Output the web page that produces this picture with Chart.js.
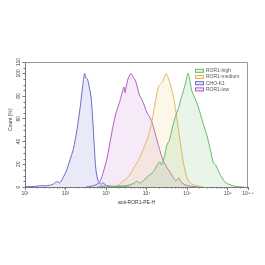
<!DOCTYPE html>
<html>
<head>
<meta charset="utf-8">
<script src="https://cdn.jsdelivr.net/npm/chart.js@4.4.1/dist/chart.umd.min.js"></script>
<style>
  html, body { margin: 0; padding: 0; background: #fff; }
  #wrap { width: 265px; height: 265px; }
</style>
</head>
<body>
<div id="wrap"><canvas id="chart" width="265" height="265"></canvas></div>
<script>
// histogram outlines: x = log10(PE-H intensity), y = count (%)
const highLog = [2.8, 3.0, 3.1, 3.3, 3.5, 3.67, 3.76, 3.84, 3.96, 4.05, 4.13, 4.21, 4.29, 4.33, 4.37, 4.44, 4.50, 4.56, 4.62, 4.70, 4.79, 4.85, 4.91, 4.97, 5.02, 5.07, 5.11, 5.18, 5.24, 5.32, 5.40, 5.49, 5.57, 5.65, 5.71, 5.77, 5.86, 5.94, 6.06, 6.2, 6.4];
const highCount = [0, 1, 0.5, 0.8, 1.2, 3, 5, 3.5, 7, 10, 12, 16, 21, 22, 19.5, 27, 37, 41, 50, 61, 70, 78, 85, 93, 100, 93, 85, 79, 74, 65, 55, 45, 33, 21, 19, 14, 8, 4, 2, 0.5, 0];

const mediumLog = [3.0, 3.2, 3.30, 3.39, 3.47, 3.55, 3.63, 3.72, 3.80, 3.88, 3.96, 4.05, 4.13, 4.19, 4.25, 4.30, 4.35, 4.40, 4.44, 4.48, 4.52, 4.56, 4.60, 4.66, 4.71, 4.76, 4.81, 4.86, 4.91, 4.97, 5.04, 5.12, 5.25, 5.4];
const mediumCount = [0, 0.5, 1.5, 4.5, 6.5, 9, 13.5, 19, 24, 30, 37, 46, 58, 70, 82, 89, 91, 93, 97, 100, 97, 93, 88, 80, 69, 57, 44, 32, 21, 11, 5, 2.3, 1, 0];

const chokLog = [1.0, 1.25, 1.4, 1.49, 1.6, 1.70, 1.78, 1.86, 1.95, 2.03, 2.11, 2.19, 2.28, 2.36, 2.42, 2.47, 2.50, 2.54, 2.58, 2.63, 2.67, 2.71, 2.75, 2.81, 2.88, 2.93, 2.98, 3.05, 3.15, 3.3, 3.6];
const chokCount = [0.3, 0.5, 1.2, 1, 1.5, 2.6, 4.7, 3.8, 9, 15, 24, 33, 50, 70, 88, 100, 96, 95, 89, 79, 59, 35, 15, 4.7, 2.6, 3.8, 1.8, 1, 0.6, 0.3, 0];

const lowLog = [2.5, 2.65, 2.75, 2.85, 2.93, 3.02, 3.10, 3.18, 3.25, 3.30, 3.36, 3.41, 3.44, 3.47, 3.49, 3.53, 3.58, 3.62, 3.66, 3.72, 3.77, 3.82, 3.88, 3.94, 4.0, 4.07, 4.13, 4.19, 4.25, 4.32, 4.40, 4.47, 4.54, 4.62, 4.72, 4.79, 4.86, 4.95, 5.1, 5.3];
const lowCount = [0, 0.8, 2, 5, 13, 25, 40, 55, 66, 71, 78, 85, 88, 83, 87, 94, 98.5, 100, 97, 94, 88, 81, 77, 72, 66, 62, 57, 50, 42, 33, 24, 19, 15, 10.5, 5.5, 8, 4, 2, 0.5, 0];

const seriesNames = ['ROR1-high', 'ROR1-medium', 'CHO-K1', 'ROR1-low'];

const xTickValues = [1, 2, 3, 4, 5, 6, 6.5];
const xTickLabels = ['10\u00b9', '10\u00b2', '10\u00b3', '10\u2074', '10\u2075', '10\u2076', '10\u2076\u00b7\u2075'];
const yTickValues = [0, 20, 40, 60, 80, 100, 110];

const FONT = 'Liberation Sans, Arial, sans-serif';
const AXIS_COLOR = '#777';

const toPoints = (xs, ys) => xs.map((x, i) => ({ x, y: ys[i] }));

const makeSeries = (label, xs, ys, line, fill) => ({
  label,
  data: toPoints(xs, ys),
  showLine: true,
  borderColor: line,
  backgroundColor: fill,
  borderWidth: 1,
  pointRadius: 0,
  tension: 0.3,
  fill: 'origin'
});

// box round the plot plus the minor ticks on both axes
const framePlugin = {
  id: 'frame',
  afterDraw (chart) {
    const { ctx, chartArea: a, scales: { x, y } } = chart;
    ctx.save();
    ctx.strokeStyle = '#999';
    ctx.lineWidth = 1;
    ctx.beginPath();
    ctx.moveTo(a.left, a.top + 0.5);
    ctx.lineTo(a.right - 0.5, a.top + 0.5);
    ctx.lineTo(a.right - 0.5, a.bottom);
    ctx.stroke();

    ctx.strokeStyle = AXIS_COLOR;
    ctx.beginPath();
    for (let d = 1; d <= 6; d++) {
      for (let k = 2; k <= 9; k++) {
        const v = d + Math.log10(k);
        if (v > 6.5) continue;
        const px = Math.round(x.getPixelForValue(v)) + 0.5;
        ctx.moveTo(px, a.bottom);
        ctx.lineTo(px, a.bottom + 1.5);
      }
    }
    for (let v = 5; v < 110; v += 5) {
      if (v % 20 === 0) continue;
      const py = Math.round(y.getPixelForValue(v)) + 0.5;
      ctx.moveTo(a.left, py);
      ctx.lineTo(a.left - 1.5, py);
    }
    ctx.stroke();
    ctx.restore();
  }
};

// vertical legend sitting in the top-right corner of the plot
const legendPlugin = {
  id: 'boxLegend',
  afterDraw (chart) {
    const { ctx, chartArea: a } = chart;
    const x0 = a.right - 53;
    const y0 = a.top + 8.8;
    ctx.save();
    ctx.font = '5px ' + FONT;
    ctx.textBaseline = 'middle';
    chart.data.datasets.forEach((ds, i) => {
      const cy = y0 + i * 6.2;
      ctx.fillStyle = ds.backgroundColor;
      ctx.fillRect(x0, cy - 2, 9, 4);
      ctx.strokeStyle = ds.borderColor;
      ctx.lineWidth = 1;
      ctx.strokeRect(x0 + 0.5, cy - 2 + 0.5, 8, 3);
      ctx.fillStyle = '#555';
      ctx.fillText(ds.label, x0 + 11, cy);
    });
    ctx.restore();
  }
};

const datasets = [
  makeSeries(seriesNames[0], highLog, highCount, '#66bb66', 'rgba(110, 195, 110, 0.16)'),
  makeSeries(seriesNames[1], mediumLog, mediumCount, '#e5b860', 'rgba(240, 210, 130, 0.18)'),
  makeSeries(seriesNames[2], chokLog, chokCount, '#6a6acc', 'rgba(110, 110, 200, 0.15)'),
  makeSeries(seriesNames[3], lowLog, lowCount, '#b458c6', 'rgba(195, 115, 205, 0.15)')
];

new Chart(document.getElementById('chart'), {
  type: 'scatter',
  data: { datasets },
  options: {
    responsive: false,
    animation: false,
    devicePixelRatio: 1,
    layout: { padding: { top: 62, right: 17, left: 0, bottom: 55 } },
    plugins: {
      legend: { display: false },
      tooltip: { enabled: false }
    },
    scales: {
      x: {
        type: 'linear',
        min: 1,
        max: 6.5,
        afterBuildTicks: s => { s.ticks = xTickValues.map(value => ({ value })); },
        afterFit: s => { s.height = 23; },
        ticks: {
          callback: v => xTickLabels[xTickValues.indexOf(v)],
          autoSkip: false,
          maxRotation: 0,
          padding: 1,
          color: '#444',
          font: { family: FONT, size: 5 }
        },
        grid: { drawOnChartArea: false, tickLength: 3, color: AXIS_COLOR },
        border: { color: AXIS_COLOR },
        title: {
          display: true,
          text: 'anti-ROR1-PE-H',
          color: '#333',
          font: { family: FONT, size: 5 },
          padding: { top: 0, bottom: 4 }
        }
      },
      y: {
        min: 0,
        max: 110,
        afterBuildTicks: s => { s.ticks = yTickValues.map(value => ({ value })); },
        afterFit: s => { s.width = 25; },
        ticks: {
          minRotation: 90,
          maxRotation: 90,
          crossAlign: 'center',
          padding: 0,
          color: '#444',
          font: { family: FONT, size: 5 }
        },
        grid: { drawOnChartArea: false, tickLength: 2.5, color: AXIS_COLOR },
        border: { color: AXIS_COLOR },
        title: {
          display: true,
          // leading spaces nudge the rotated title a little lower, as in the original
          text: '       Count (%)',
          color: '#333',
          font: { family: FONT, size: 5 },
          padding: { top: 8, bottom: 0 }
        }
      }
    }
  },
  plugins: [framePlugin, legendPlugin]
});
</script>
</body>
</html>
